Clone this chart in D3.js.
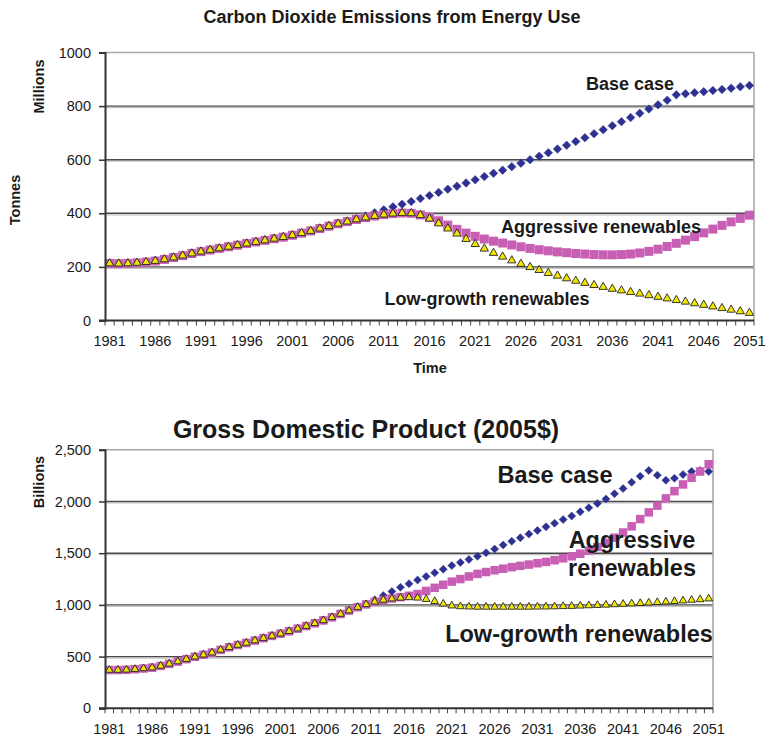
<!DOCTYPE html>
<html><head><meta charset="utf-8">
<script src="https://cdn.jsdelivr.net/npm/d3@7"></script>
<style>body{margin:0;background:#fff}svg{display:block}text{font-family:"Liberation Sans",Arial,sans-serif;fill:#1a1a1a}</style>
</head><body><div id="chart"></div>
<script>
const years = [1981,1982,1983,1984,1985,1986,1987,1988,1989,1990,1991,1992,1993,1994,1995,1996,1997,1998,1999,2000,
2001,2002,2003,2004,2005,2006,2007,2008,2009,2010,2011,2012,2013,2014,2015,2016,2017,2018,2019,2020,
2021,2022,2023,2024,2025,2026,2027,2028,2029,2030,2031,2032,2033,2034,2035,2036,2037,2038,2039,2040,
2041,2042,2043,2044,2045,2046,2047,2048,2049,2050,2051];
const yearLabels = [1981,1986,1991,1996,2001,2006,2011,2016,2021,2026,2031,2036,2041,2046,2051];

// CO2 emissions, millions of tonnes
const co2Base = [213,212,213,215,218,222,228,235,242,250,257,263,269,275,281,287,293,299,305,311,318,326,334,343,352,361,369,377,
390,402,413,424,434,444,455,466,478,490,501,513,525,537,549,561,574,587,600,613,626,640,654,668,682,697,712,727,742,757,773,789,805,822,842,846,850,854,858,862,867,872,877];
const co2Aggressive = [213,212,213,215,218,222,228,235,242,250,257,263,269,275,281,287,293,299,305,311,318,326,334,343,352,361,369,377,
384,390,395,399,401,400,394,385,372,356,340,326,314,304,296,289,282,275,269,264,260,256,253,250,248,246,245,245,246,248,252,258,266,276,288,300,313,327,341,355,368,381,393];
const co2LowGrowth = [213,212,213,215,218,222,228,235,242,250,257,263,269,275,281,287,293,299,305,311,318,326,334,343,352,361,369,377,
384,390,395,399,401,400,393,380,362,343,324,304,285,268,252,238,224,211,199,188,177,167,157,148,140,132,125,118,112,106,100,94,88,82,76,70,64,58,52,46,40,34,28];
const co2Ticks = [0,200,400,600,800,1000];

// GDP, billions of 2005$
const gdpBase = [370,370,372,378,385,393,410,430,452,475,498,518,538,565,590,612,632,655,678,700,722,745,770,795,822,850,880,912,945,978,1005,
1050,1090,1130,1170,1205,1240,1275,1310,1345,1380,1410,1440,1470,1505,1540,1580,1615,1650,1685,1720,1755,1790,1825,1860,1900,1940,1980,2025,2075,2125,2185,2245,2300,2255,2205,2225,2260,2290,2300,2290];
const gdpAggressive = [370,370,372,378,385,393,410,430,452,475,498,518,538,565,590,612,632,655,678,700,722,745,770,795,822,850,880,912,945,978,1005,
1030,1048,1062,1075,1088,1105,1135,1165,1195,1225,1250,1275,1300,1318,1335,1350,1365,1378,1390,1403,1416,1432,1450,1470,1495,1525,1560,1600,1650,1700,1760,1830,1895,1960,2030,2100,2165,2230,2290,2360];
const gdpLowGrowth = [370,370,372,378,385,393,410,430,452,475,498,518,538,565,590,612,632,655,678,700,722,745,770,795,822,850,880,912,945,978,1005,
1030,1048,1060,1068,1072,1068,1055,1035,1010,992,985,982,980,980,980,980,980,980,980,981,982,984,986,988,991,994,997,1000,1004,1008,1012,1016,1020,1025,1030,1035,1041,1047,1053,1060];
const gdpTicks = [0,500,1000,1500,2000,2500];

const svg = d3.select("#chart").append("svg").attr("width",768).attr("height",742);
const FONT = '"Liberation Sans",Arial,sans-serif';

function drawChart(o){
  const g = svg.append("g");
  const x = d3.scaleBand().domain(years).range([o.left,o.right]).padding(0);
  const y = d3.scaleLinear().domain([0,o.max]).range([o.bottom,o.top]);
  const cx = d => x(d) + x.bandwidth()/2;

  const grid = o.ticks.filter(t => t>0 && t<o.max);
  g.selectAll(".gs").data(grid).join("line")
    .attr("x1",o.left).attr("x2",o.right).attr("y1",d=>y(d)+1.5).attr("y2",d=>y(d)+1.5)
    .attr("stroke","#c4c4c4").attr("stroke-width",1.2);
  g.selectAll(".gl").data(grid).join("line")
    .attr("x1",o.left).attr("x2",o.right).attr("y1",d=>y(d)).attr("y2",d=>y(d))
    .attr("stroke","#4a4a4a").attr("stroke-width",1.4);
  g.append("line").attr("x1",o.left).attr("x2",o.right).attr("y1",y(o.max)).attr("y2",y(o.max))
    .attr("stroke","#a8a8a8").attr("stroke-width",1.6);
  g.append("line").attr("x1",o.right).attr("x2",o.right).attr("y1",y(o.max)).attr("y2",y(0))
    .attr("stroke","#a8a8a8").attr("stroke-width",1.6);

  const sq = d3.symbol().type(d3.symbolSquare);
  const tri = d3.symbol().type(d3.symbolTriangle);
  g.append("g").selectAll("path").data(years.map((yr,i)=>[yr,o.base[i]])).join("path")
    .attr("d", sq.size(o.dia*o.dia/2)())
    .attr("transform", d=>`translate(${cx(d[0])},${y(d[1])}) rotate(45)`)
    .attr("fill","#2e3192").attr("stroke","#2e3192").attr("stroke-width",0.5);
  g.append("g").selectAll("path").data(years.map((yr,i)=>[yr,o.aggr[i]])).join("path")
    .attr("d", sq.size(o.sq*o.sq)())
    .attr("transform", d=>`translate(${cx(d[0])},${y(d[1])})`)
    .attr("fill","#c95fb4");
  g.append("g").selectAll("path").data(years.map((yr,i)=>[yr,o.low[i]])).join("path")
    .attr("d", tri.size(o.tri)())
    .attr("transform", d=>`translate(${cx(d[0])},${y(d[1])})`)
    .attr("fill","#f2e600").attr("stroke","#222").attr("stroke-width",0.9);

  const ya = d3.axisLeft(y).tickValues(o.ticks).tickSize(6).tickFormat(o.fmt);
  const yg = g.append("g").attr("transform",`translate(${o.left},0)`).call(ya);
  yg.select(".domain").attr("stroke","#333").attr("stroke-width",2);
  yg.selectAll(".tick line").attr("stroke","#333").attr("stroke-width",1.5);
  yg.selectAll(".tick text").attr("font-family",FONT).attr("font-size",o.tickFs).attr("fill","#222").attr("x",-14);

  const edges = years.map(d=>x(d)).concat([o.right]);
  g.append("g").selectAll("line").data(edges).join("line")
    .attr("x1",d=>d).attr("x2",d=>d).attr("y1",y(0)).attr("y2",y(0)+5)
    .attr("stroke","#444").attr("stroke-width",1);
  g.append("line").attr("x1",o.left-6).attr("x2",o.right).attr("y1",y(0)).attr("y2",y(0))
    .attr("stroke","#333").attr("stroke-width",2);
  const xa = d3.axisBottom(x).tickValues(yearLabels).tickSize(0).tickPadding(o.xPad);
  const xg = g.append("g").attr("transform",`translate(0,${y(0)})`).call(xa);
  xg.select(".domain").remove();
  xg.selectAll(".tick text").attr("font-family",FONT).attr("font-size",o.tickFs).attr("fill","#222");
  return {x,y,cx};
}

const chartTop = drawChart({left:105,right:754,top:52.5,bottom:320.5,max:1000,ticks:co2Ticks,fmt:d3.format("d"),
  base:co2Base,aggr:co2Aggressive,low:co2LowGrowth,dia:8.5,sq:9,tri:30,tickFs:14.5,xPad:15});
const chartBottom = drawChart({left:105,right:713,top:449.8,bottom:708.3,max:2500,ticks:gdpTicks,fmt:d3.format(","),
  base:gdpBase,aggr:gdpAggressive,low:gdpLowGrowth,dia:8,sq:8.5,tri:26,tickFs:14.5,xPad:15});

function txt(x,y,s,fs,anchor,rot){
  const t = svg.append("text").attr("x",x).attr("y",y).text(s).attr("font-size",fs)
    .attr("font-weight","bold").attr("text-anchor",anchor||"middle").attr("font-family",FONT);
  if(rot) t.attr("transform",`rotate(${rot},${x},${y})`);
  return t;
}
txt(392,23,"Carbon Dioxide Emissions from Energy Use",18);
txt(44,86.5,"Millions",14.5,"middle",-90);
txt(20,200,"Tonnes",14.5,"middle",-90);
txt(430,373,"Time",14.5);
txt(630,90,"Base case",18);
txt(601,233,"Aggressive renewables",18);
txt(487,305,"Low-growth renewables",18);
txt(366,438,"Gross Domestic Product (2005$)",25);
txt(44,482,"Billions",14.5,"middle",-90);
txt(555,483,"Base case",23.5);
txt(632,548,"Aggressive",23.5);
txt(632,576,"renewables",23.5);
txt(579,642,"Low-growth renewables",23.5);
</script></body></html>
